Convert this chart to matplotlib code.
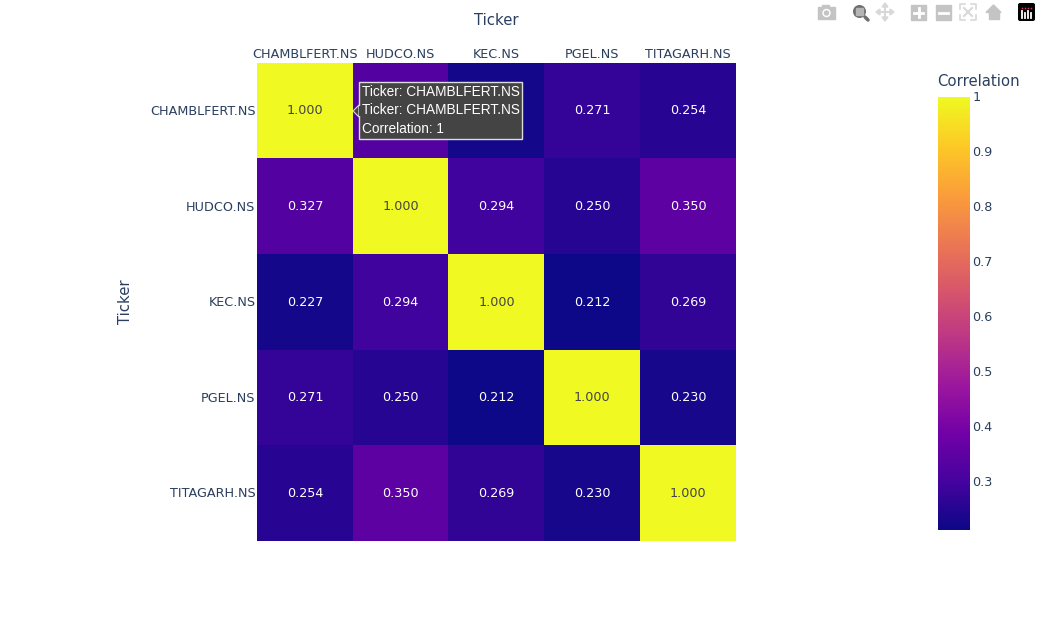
import numpy as np
import matplotlib
matplotlib.use("Agg")
import matplotlib.pyplot as plt
from matplotlib.colors import LinearSegmentedColormap
from matplotlib.patches import Rectangle, Polygon, Circle, FancyBboxPatch
from matplotlib.transforms import ScaledTranslation

W, H = 1038, 623

tickers = ["CHAMBLFERT.NS", "HUDCO.NS", "KEC.NS", "PGEL.NS", "TITAGARH.NS"]
corr_row1 = [1.000, 0.327, 0.227, 0.271, 0.254]
corr_row2 = [0.327, 1.000, 0.294, 0.250, 0.350]
corr_row3 = [0.227, 0.294, 1.000, 0.212, 0.269]
corr_row4 = [0.271, 0.250, 0.212, 1.000, 0.230]
corr_row5 = [0.254, 0.350, 0.269, 0.230, 1.000]
cbar_ticks = [0.3, 0.4, 0.5, 0.6, 0.7, 0.8, 0.9, 1.0]
cbar_labels = ["0.3", "0.4", "0.5", "0.6", "0.7", "0.8", "0.9", "1"]

plasma = ["#0d0887", "#46039f", "#7201a8", "#9c179e", "#bd3786",
          "#d8576b", "#ed7953", "#fb9f3a", "#fdca26", "#f0f921"]
cmap = LinearSegmentedColormap.from_list("plotly_plasma", plasma)
INK = "#2a3f5f"

plt.rcParams['font.family'] = ['DejaVu Sans']


def px_axes(fig, left, top, right, bottom):
    # plotly layout is easier to read in pixels from the top left
    return fig.add_axes([left / W, (H - bottom) / H, (right - left) / W, (bottom - top) / H])


def draw_toolbar(ax):
    grey = "#c4c4c4"
    # camera
    ax.add_patch(Rectangle((818, 7), 17, 12, color=grey))
    ax.add_patch(Rectangle((822, 5), 7, 3, color=grey))
    ax.add_patch(Circle((826.5, 13), 3.5, color="white"))
    ax.add_patch(Circle((826.5, 13), 2, color=grey))
    # zoom, the active one
    ax.plot([865, 868], [17, 20], color="#6e6e6e", lw=2.5, solid_capstyle="round")
    ax.add_patch(Circle((859.5, 11.5), 6.5, fc="#6e6e6e", ec="none"))
    ax.add_patch(Rectangle((856, 8), 7, 7, color="#b5b5b5"))
    # pan
    ax.plot([877, 893], [12, 12], color="#d8d8d8", lw=1.5)
    ax.plot([885, 885], [4, 20], color="#d8d8d8", lw=1.5)
    for pts in ([(885, 3), (882, 7), (888, 7)], [(885, 21), (882, 17), (888, 17)],
                [(876, 12), (880, 9), (880, 15)], [(894, 12), (890, 9), (890, 15)]):
        ax.add_patch(Polygon(pts, color="#d8d8d8"))
    # plus and minus
    ax.add_patch(Rectangle((911, 5), 15, 15, color=grey))
    ax.plot([914, 923], [12.5, 12.5], color="white", lw=2)
    ax.plot([918.5, 918.5], [8, 17], color="white", lw=2)
    ax.add_patch(Rectangle((936, 5), 15, 15, color=grey))
    ax.plot([939, 948], [12.5, 12.5], color="white", lw=2)
    # autoscale
    for x0, y0, dx, dy in ((960, 4, 1, 1), (976, 4, -1, 1), (960, 20, 1, -1), (976, 20, -1, -1)):
        ax.plot([x0 + 5 * dx, x0, x0], [y0, y0, y0 + 5 * dy], color="#d8d8d8", lw=1.2)
    ax.plot([964, 972], [8, 16], color="#d8d8d8", lw=1.5)
    ax.plot([972, 964], [8, 16], color="#d8d8d8", lw=1.5)
    # home
    ax.add_patch(Polygon([(993.5, 5), (1001, 12.5), (986, 12.5)], color=grey))
    ax.add_patch(Rectangle((988.5, 12), 10, 7, color=grey))
    # plotly logo
    ax.add_patch(FancyBboxPatch((1020, 5), 13, 14, boxstyle="round,pad=2,rounding_size=2", fc="black", ec="none"))
    for k, x in enumerate([1022, 1025, 1028, 1031]):
        ax.plot([x, x], [11 + (k % 2) * 2, 18], color="white", lw=1.3)
        ax.plot([x], [7.5], "s", ms=1.1, color="#e6357b", mew=0)


def draw_hover(ax):
    ax.add_patch(Polygon([(353, 111), (359, 105), (359, 117)], fc="#444444", ec="#dddddd", lw=0.8))
    ax.add_patch(Rectangle((359, 82), 163, 57, fc="#444444", ec="#dddddd", lw=1))
    ax.add_patch(Rectangle((358.5, 106), 2, 10, fc="#444444", ec="none"))
    lines = ["Ticker: CHAMBLFERT.NS", "Ticker: CHAMBLFERT.NS", "Correlation: 1"]
    for y, line in zip([92, 110.5, 129], lines):
        ax.text(362, y, line, color="white", fontsize=9.8, family=["Liberation Sans"],
                ha="left", va="center")


corr = np.array([corr_row1, corr_row2, corr_row3, corr_row4, corr_row5])
vmin, vmax = corr.min(), corr.max()

fig = plt.figure(figsize=(W / 100, H / 100), dpi=100, facecolor="white")

ax = px_axes(fig, 257, 63, 736, 541)
ax.imshow(corr, cmap=cmap, vmin=vmin, vmax=vmax, aspect="auto", interpolation="nearest")
ax.set_xticks(range(len(tickers)), tickers)
ax.set_yticks(range(len(tickers)), tickers)
ax.xaxis.tick_top()
ax.tick_params(length=0, labelsize=9.15, labelcolor=INK, pad=1.5)
ax.tick_params(axis="y", pad=1)
nudge = ScaledTranslation(0, 0.7 / 100, fig.dpi_scale_trans)
for lab in ax.get_yticklabels():
    lab.set_transform(lab.get_transform() + nudge)
for s in ax.spines.values():
    s.set_visible(False)
for i, row in enumerate(corr):
    for j, val in enumerate(row):
        # these two sit behind the hover box in the screenshot
        if i == 0 and j in (1, 2):
            continue
        ax.text(j, i, f"{val:.3f}", ha="center", va="center", fontsize=9.15,
                color="#444444" if val > 0.6 else "white")

cax = px_axes(fig, 938, 97, 969, 530)
gradient = np.linspace(vmax, vmin, 256).reshape(-1, 1)
cax.imshow(gradient, cmap=cmap, vmin=vmin, vmax=vmax, aspect="auto",
           extent=[0, 1, vmin, vmax])
cax.set_xticks([])
cax.yaxis.tick_right()
cax.set_yticks(cbar_ticks, cbar_labels)
cax.tick_params(length=0, labelsize=9.15, labelcolor=INK, pad=2.5)
for lab in cax.get_yticklabels():
    lab.set_transform(lab.get_transform() + nudge)
for s in cax.spines.values():
    s.set_visible(False)

over = fig.add_axes([0, 0, 1, 1], facecolor="none")
over.set_xlim(0, W)
over.set_ylim(H, 0)
over.axis("off")
over.text(496.5, 20.5, "Ticker", ha="center", va="center", fontsize=10.7, color=INK)
over.text(126, 302, "Ticker", ha="center", va="center", rotation=90, fontsize=10.7, color=INK)
over.text(937, 82, "Correlation", ha="left", va="center", fontsize=10.7, color=INK)
draw_hover(over)
draw_toolbar(over)

fig.savefig("out.png", dpi=100)
